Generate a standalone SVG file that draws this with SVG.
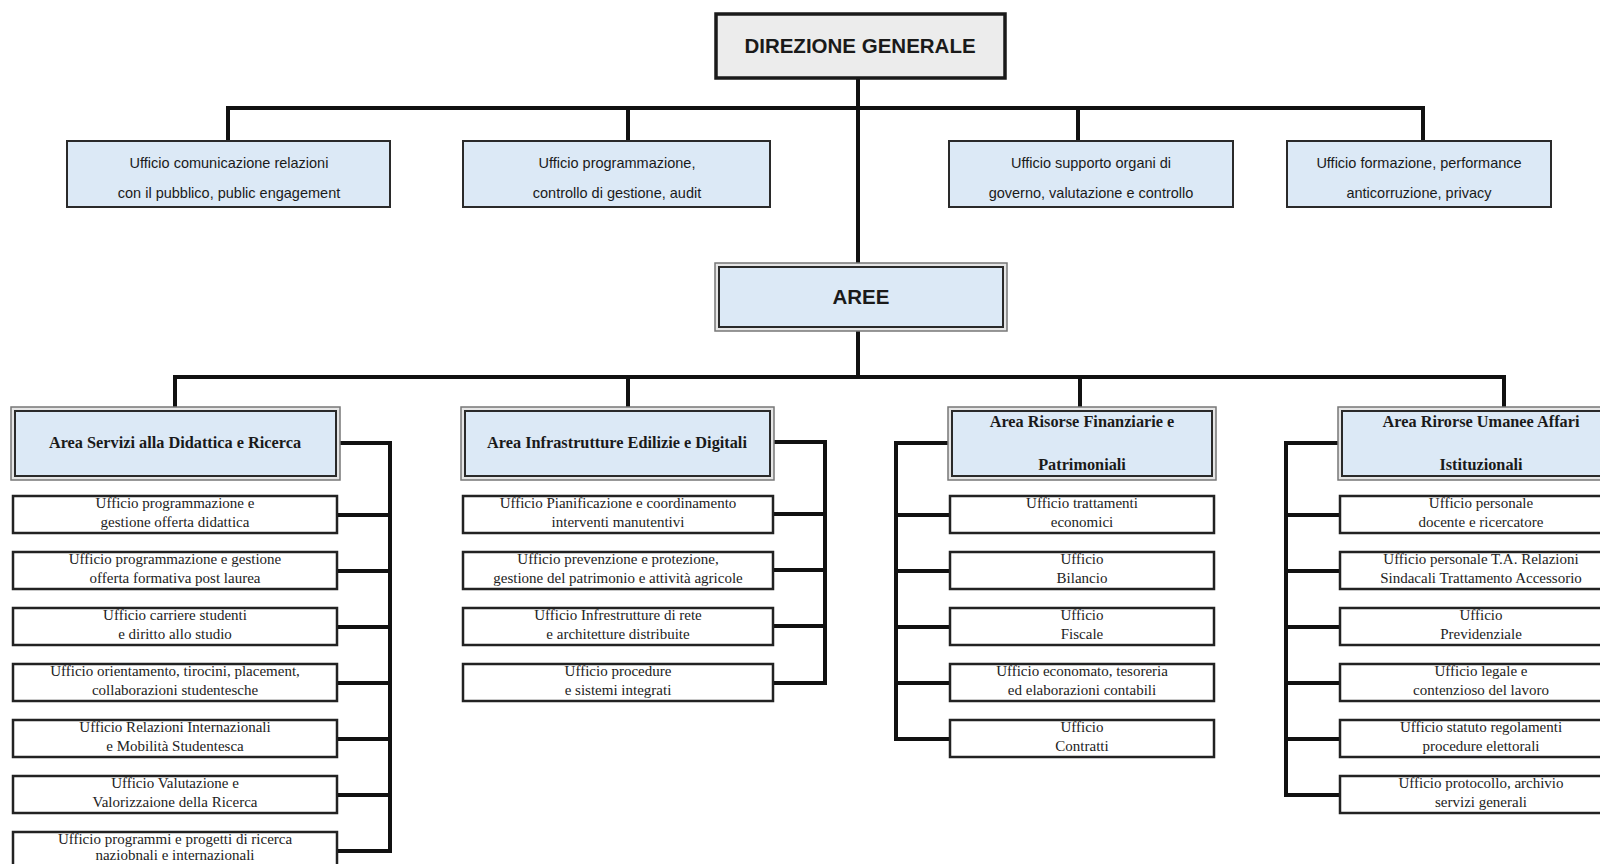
<svg xmlns="http://www.w3.org/2000/svg" width="1600" height="864" viewBox="0 0 1600 864">
<style>
.bg{fill:#ffffff}
.dg{fill:#ececec;stroke:#1a1a1a;stroke-width:3.5}
.top{fill:#dce9f6;stroke:#2a2a2a;stroke-width:2}
.aout{fill:#e6e6e6;stroke:#777;stroke-width:1.5}
.ain{fill:#dce9f6;stroke:#2a2a2a;stroke-width:2}
.sub{fill:#ffffff;stroke:#222;stroke-width:2.5}
.con{fill:none;stroke:#111;stroke-width:4;stroke-linejoin:miter;stroke-linecap:square}
.h1{font-family:"Liberation Sans",Arial,sans-serif;font-weight:bold;font-size:20.5px;fill:#1a1a1a;text-anchor:middle}
.t1{font-family:"Liberation Sans",Arial,sans-serif;font-size:14.5px;fill:#1a1a1a;text-anchor:middle}
.at{font-family:"Liberation Serif","Times New Roman",serif;font-weight:bold;font-size:16.3px;fill:#1a1a1a;text-anchor:middle}
.st{font-family:"Liberation Serif","Times New Roman",serif;font-size:15px;fill:#222;text-anchor:middle}
</style>
<rect class="bg" x="0" y="0" width="1600" height="864"/>

<g id="connectors">
  <path class="con" d="M858 78 V263 M858 331 V377"/>
  <path class="con" d="M228 141 V108 H1423 V141 M628 108 V141 M1078 108 V141"/>
  <path class="con" d="M175 407 V377 H1504 V407 M628 377 V407 M1080 377 V407"/>
  <path class="con" d="M340 443 H390 V851 M337 515 H390 M337 571 H390 M337 627 H390 M337 683 H390 M337 739 H390 M337 795 H390 M337 851 H390"/>
  <path class="con" d="M774 442 H825 V683 M773 514 H825 M773 570 H825 M773 626 H825 M773 683 H825"/>
  <path class="con" d="M948 443 H896 V739 M950 515 H896 M950 571 H896 M950 627 H896 M950 683 H896 M950 739 H896"/>
  <path class="con" d="M1338 443 H1286 V795 M1340 515 H1286 M1340 571 H1286 M1340 627 H1286 M1340 683 H1286 M1340 739 H1286 M1340 795 H1286"/>
</g>

<g id="direzione-generale">
  <rect class="dg" x="716" y="14" width="289" height="64"/>
  <text class="h1" x="860" y="53">DIREZIONE GENERALE</text>
</g>

<g id="uff-comunicazione">
  <rect class="top" x="67" y="141" width="323" height="66"/>
  <text class="t1" x="229" y="168">Ufficio comunicazione relazioni</text>
  <text class="t1" x="229" y="198">con il pubblico, public engagement</text>
</g>
<g id="uff-programmazione">
  <rect class="top" x="463" y="141" width="307" height="66"/>
  <text class="t1" x="617" y="168">Ufficio programmazione,</text>
  <text class="t1" x="617" y="198">controllo di gestione, audit</text>
</g>
<g id="uff-supporto">
  <rect class="top" x="949" y="141" width="284" height="66"/>
  <text class="t1" x="1091" y="168">Ufficio supporto organi di</text>
  <text class="t1" x="1091" y="198">governo, valutazione e controllo</text>
</g>
<g id="uff-formazione">
  <rect class="top" x="1287" y="141" width="264" height="66"/>
  <text class="t1" x="1419" y="168">Ufficio formazione, performance</text>
  <text class="t1" x="1419" y="198">anticorruzione, privacy</text>
</g>

<g id="aree">
  <rect class="aout" x="715" y="263" width="292" height="68"/>
  <rect class="ain" x="719" y="267" width="284" height="60"/>
  <text class="h1" x="861" y="304">AREE</text>
</g>

<g id="area-didattica">
  <rect class="aout" x="11" y="407" width="329" height="73"/>
  <rect class="ain" x="15" y="411" width="321" height="65"/>
  <text class="at" x="175" y="448">Area Servizi alla Didattica e Ricerca</text>
</g>
<g id="area-infrastrutture">
  <rect class="aout" x="461" y="407" width="313" height="73"/>
  <rect class="ain" x="465" y="411" width="305" height="65"/>
  <text class="at" x="617" y="448">Area Infrastrutture Edilizie e Digitali</text>
</g>
<g id="area-finanziarie">
  <rect class="aout" x="948" y="407" width="268" height="73"/>
  <rect class="ain" x="952" y="411" width="260" height="65"/>
  <text class="at" x="1082" y="427">Area Risorse Finanziarie e</text>
  <text class="at" x="1082" y="470">Patrimoniali</text>
</g>
<g id="area-umane">
  <rect class="aout" x="1338" y="407" width="282" height="73"/>
  <rect class="ain" x="1342" y="411" width="274" height="65"/>
  <text class="at" x="1481" y="427">Area Rirorse Umanee Affari</text>
  <text class="at" x="1481" y="470">Istituzionali</text>
</g>

<g id="col1-1"><rect class="sub" x="13" y="496" width="324" height="37"/><text class="st" x="175" y="508">Ufficio programmazione e</text><text class="st" x="175" y="527">gestione offerta didattica</text></g>
<g id="col1-2"><rect class="sub" x="13" y="552" width="324" height="37"/><text class="st" x="175" y="564">Ufficio programmazione e gestione</text><text class="st" x="175" y="583">offerta formativa post laurea</text></g>
<g id="col1-3"><rect class="sub" x="13" y="608" width="324" height="37"/><text class="st" x="175" y="620">Ufficio carriere studenti</text><text class="st" x="175" y="639">e diritto allo studio</text></g>
<g id="col1-4"><rect class="sub" x="13" y="664" width="324" height="37"/><text class="st" x="175" y="676">Ufficio orientamento, tirocini, placement,</text><text class="st" x="175" y="695">collaborazioni studentesche</text></g>
<g id="col1-5"><rect class="sub" x="13" y="720" width="324" height="37"/><text class="st" x="175" y="732">Ufficio Relazioni Internazionali</text><text class="st" x="175" y="751">e Mobilità Studentesca</text></g>
<g id="col1-6"><rect class="sub" x="13" y="776" width="324" height="37"/><text class="st" x="175" y="788">Ufficio Valutazione e</text><text class="st" x="175" y="807">Valorizzaione della Ricerca</text></g>
<g id="col1-7"><rect class="sub" x="13" y="832" width="324" height="37"/><text class="st" x="175" y="844">Ufficio programmi e progetti di ricerca</text><text class="st" x="175" y="860">naziobnali e internazionali</text></g>

<g id="col2-1"><rect class="sub" x="463" y="496" width="310" height="37"/><text class="st" x="618" y="508">Ufficio Pianificazione e coordinamento</text><text class="st" x="618" y="527">interventi manutentivi</text></g>
<g id="col2-2"><rect class="sub" x="463" y="552" width="310" height="37"/><text class="st" x="618" y="564">Ufficio prevenzione e protezione,</text><text class="st" x="618" y="583">gestione del patrimonio e attività agricole</text></g>
<g id="col2-3"><rect class="sub" x="463" y="608" width="310" height="37"/><text class="st" x="618" y="620">Ufficio Infrestrutture di rete</text><text class="st" x="618" y="639">e architetture distribuite</text></g>
<g id="col2-4"><rect class="sub" x="463" y="664" width="310" height="37"/><text class="st" x="618" y="676">Ufficio procedure</text><text class="st" x="618" y="695">e sistemi integrati</text></g>

<g id="col3-1"><rect class="sub" x="950" y="496" width="264" height="37"/><text class="st" x="1082" y="508">Ufficio trattamenti</text><text class="st" x="1082" y="527">economici</text></g>
<g id="col3-2"><rect class="sub" x="950" y="552" width="264" height="37"/><text class="st" x="1082" y="564">Ufficio</text><text class="st" x="1082" y="583">Bilancio</text></g>
<g id="col3-3"><rect class="sub" x="950" y="608" width="264" height="37"/><text class="st" x="1082" y="620">Ufficio</text><text class="st" x="1082" y="639">Fiscale</text></g>
<g id="col3-4"><rect class="sub" x="950" y="664" width="264" height="37"/><text class="st" x="1082" y="676">Ufficio economato, tesoreria</text><text class="st" x="1082" y="695">ed elaborazioni contabili</text></g>
<g id="col3-5"><rect class="sub" x="950" y="720" width="264" height="37"/><text class="st" x="1082" y="732">Ufficio</text><text class="st" x="1082" y="751">Contratti</text></g>

<g id="col4-1"><rect class="sub" x="1340" y="496" width="280" height="37"/><text class="st" x="1481" y="508">Ufficio personale</text><text class="st" x="1481" y="527">docente e ricercatore</text></g>
<g id="col4-2"><rect class="sub" x="1340" y="552" width="280" height="37"/><text class="st" x="1481" y="564">Ufficio personale T.A. Relazioni</text><text class="st" x="1481" y="583">Sindacali Trattamento Accessorio</text></g>
<g id="col4-3"><rect class="sub" x="1340" y="608" width="280" height="37"/><text class="st" x="1481" y="620">Ufficio</text><text class="st" x="1481" y="639">Previdenziale</text></g>
<g id="col4-4"><rect class="sub" x="1340" y="664" width="280" height="37"/><text class="st" x="1481" y="676">Ufficio legale e</text><text class="st" x="1481" y="695">contenzioso del lavoro</text></g>
<g id="col4-5"><rect class="sub" x="1340" y="720" width="280" height="37"/><text class="st" x="1481" y="732">Ufficio statuto regolamenti</text><text class="st" x="1481" y="751">procedure elettorali</text></g>
<g id="col4-6"><rect class="sub" x="1340" y="776" width="280" height="37"/><text class="st" x="1481" y="788">Ufficio protocollo, archivio</text><text class="st" x="1481" y="807">servizi generali</text></g>
</svg>
